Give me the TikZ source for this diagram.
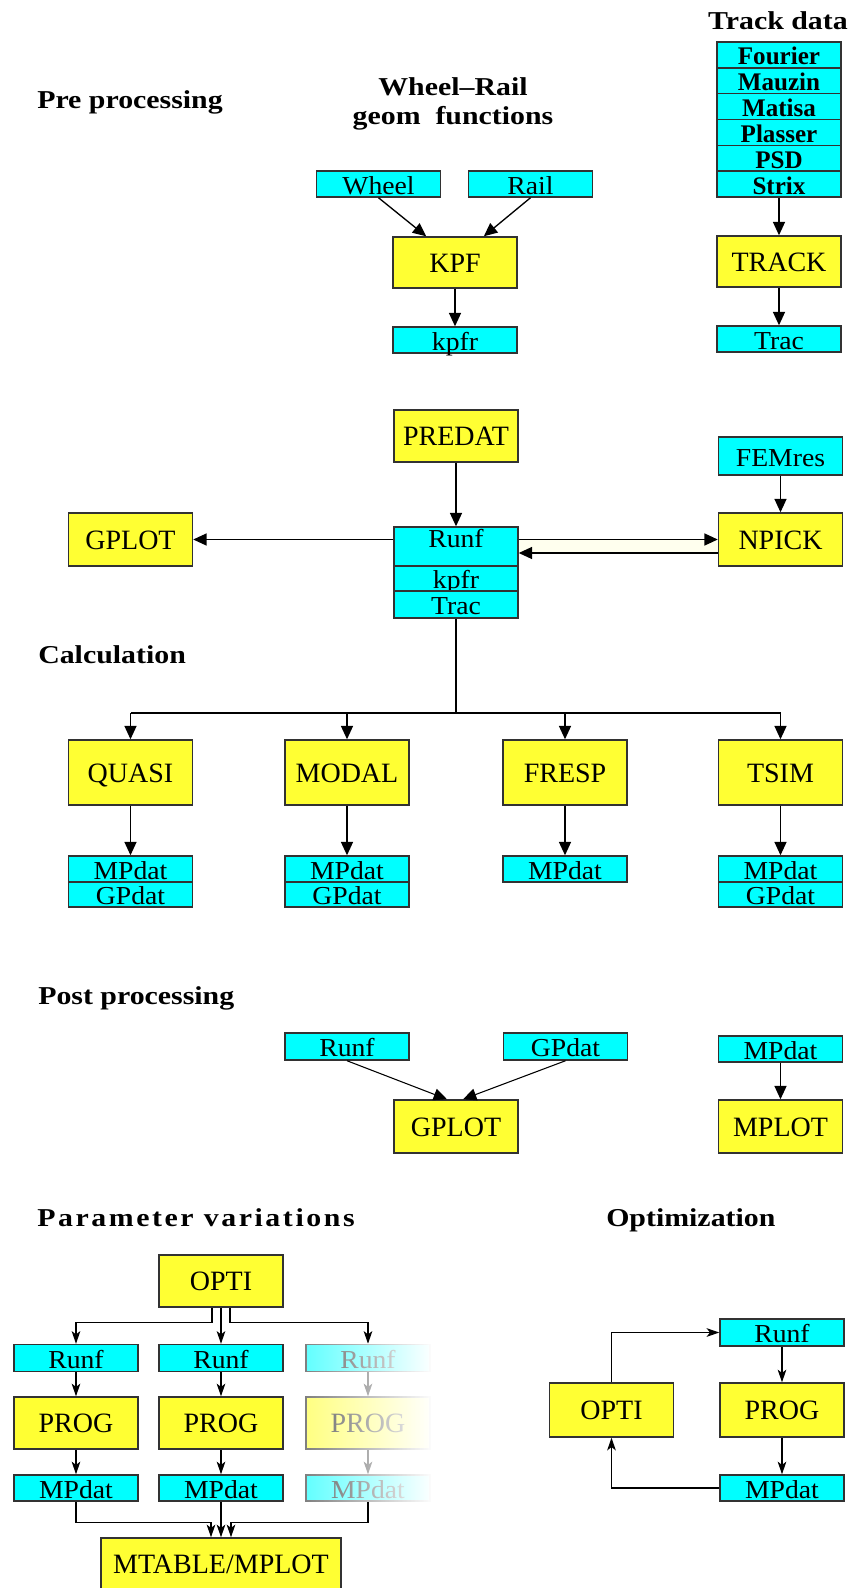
\documentclass[tikz,border=0pt]{standalone}
\usepackage{fontspec}
\setmainfont{Liberation Serif}
\newfontfamily\smallfam[FakeStretch=1.07]{Liberation Serif}
\newfontfamily\stackfam[FakeStretch=0.99]{Liberation Serif}
\newfontfamily\headfam[FakeStretch=1.16]{Liberation Serif}
\usetikzlibrary{arrows.meta,calc,fadings}
\definecolor{cyanc}{RGB}{0,255,255}
\definecolor{yellowc}{RGB}{255,255,51}
\definecolor{bordc}{RGB}{50,50,50}
\definecolor{creamc}{RGB}{255,255,238}
\tikzfading[name=fadeR, left color=transparent!63, right color=transparent!0]
\newcommand\lblfont{\fontsize{21}{25}\selectfont}
\newcommand\sfnt{\smallfam\fontsize{19.4}{22}\selectfont}
\newcommand\stfnt{\stackfam\fontsize{19}{22}\selectfont\bfseries}
\newcommand\headfont{\headfam\fontsize{19.3}{22}\selectfont\bfseries}
\begin{document}
\begin{tikzpicture}[x=0.75pt,y=-0.75pt,
  boxbase/.style={draw=bordc, line width=1.1pt, inner sep=0pt, minimum width=93pt},
  cbox/.style={boxbase, fill=cyanc, minimum height=19.5pt, font=\sfnt,
    text height=16.2pt, text depth=1.2pt},
  stbox/.style={cbox, font=\stfnt, minimum height=19.375pt},
  ybox/.style={boxbase, fill=yellowc, minimum height=39pt, font=\lblfont,
    text height=16.5pt, text depth=2pt},
  head/.style={font=\headfont, inner sep=0pt},
  conn/.style={line width=1pt, draw=black},
  arr/.style={conn, -{Triangle[length=10pt,width=9pt]}},
  sarr/.style={conn, -{Stealth[length=9.5pt,width=6.5pt,inset=2.5pt]}},
]
\useasboundingbox (0,0) rectangle (848,1588);
\clip (0,0) rectangle (848,1588);
\fill[white] (0,0) rectangle (848,1588);

% ---------- headings ----------
\node[head, anchor=base west] (hpre) at (37,108) {Pre processing};
\node[head, anchor=base] (hwr) at (453,95) {Wheel–Rail};
\node[head, anchor=base] (hgeom) at (453,124) {geom\ \ functions};
\node[head, anchor=base] (htrack) at (778,29) {Track data};
\node[head, anchor=base west] (hcalc) at (38,663) {Calculation};
\node[head, anchor=base west] (hpost) at (38,1004) {Post processing};
\node[head, anchor=base west] (hparam) at (37,1226) {\addfontfeature{LetterSpace=10}Parameter variations};
\node[head, anchor=base west] (hopt) at (606,1226) {Optimization};

% ---------- pre processing ----------
\node[cbox] (wheel) at (378.5,184) {Wheel};
\node[cbox] (rail) at (530.5,184) {Rail};
\node[ybox, minimum height=38.25pt] (kpf) at (455,262.5) {KPF};
\node[cbox] (kpfr) at (455,340) {kpfr};
\draw[arr] (wheel.south) -- ($(kpf.north west)!0.27!(kpf.north east)$);
\draw[arr] (rail.south) -- ($(kpf.north west)!0.73!(kpf.north east)$);
\draw[arr] (kpf.south) -- (kpfr.north);

\node[stbox] (fourier) at (779,54.9) {Fourier};
\node[stbox] (mauzin) at (779,80.8) {Mauzin};
\node[stbox] (matisa) at (779,106.6) {Matisa};
\node[stbox] (plasser) at (779,132.4) {Plasser};
\node[stbox] (psd) at (779,158.3) {PSD};
\node[stbox] (strix) at (779,184.1) {Strix};
\node[ybox, minimum height=38.25pt] (track) at (779,261.5) {TRACK};
\node[cbox] (trac) at (779,339) {Trac};
\draw[arr] (strix.south) -- (track.north);
\draw[arr] (track.south) -- (trac.north);

% ---------- calculation ----------
\node[ybox] (predat) at (456,436) {PREDAT};
\node[cbox, minimum height=28.5pt] (femres) at (780.5,456) {FEMres};
\node[ybox, minimum height=39.75pt] (npick) at (780.5,539.5) {NPICK};
\node[ybox, minimum height=39.75pt] (gplot) at (130.5,539.5) {GPLOT};
\node[cbox, minimum height=29.25pt, text height=15.6pt, text depth=13.4pt] (runf) at (456,546.5) {Runf};
\node[cbox, minimum height=18.75pt] (kpfr2) at (456,578.5) {kpfr};
\node[cbox, minimum height=20.25pt] (trac2) at (456,604.5) {Trac};

\coordinate (nb) at ($(npick.west)+(0,13.5)$);
\fill[creamc] (runf.east |- npick.west) rectangle (nb);
\draw[arr] (runf.east |- npick.west) -- (npick.west);
\draw[arr] (nb) -- (runf.east |- nb);
\draw[arr] (runf.west |- gplot.east) -- (gplot.east);
\draw[arr] (predat.south) -- (runf.north);
\draw[arr] (femres.south) -- (npick.north);

\node[ybox, minimum height=48.75pt] (quasi) at (130.5,772.5) {QUASI};
\node[ybox, minimum height=48.75pt] (modal) at (347,772.5) {MODAL};
\node[ybox, minimum height=48.75pt] (fresp) at (565,772.5) {FRESP};
\node[ybox, minimum height=48.75pt] (tsim) at (780.5,772.5) {TSIM};
\coordinate (bus) at (456,713);
\draw[conn] (trac2.south) -- (bus);
\draw[conn] (quasi.north |- bus) -- (tsim.north |- bus);
\foreach \n in {quasi,modal,fresp,tsim} \draw[arr] (\n.north |- bus) -- (\n.north);

\node[cbox] (mpq) at (130.5,869) {MPdat};
\node[cbox, minimum height=18.75pt] (gpq) at (130.5,894.5) {GPdat};
\node[cbox] (mpm) at (347,869) {MPdat};
\node[cbox, minimum height=18.75pt] (gpm) at (347,894.5) {GPdat};
\node[cbox] (mpf) at (565,869) {MPdat};
\node[cbox] (mpt) at (780.5,869) {MPdat};
\node[cbox, minimum height=18.75pt] (gpt) at (780.5,894.5) {GPdat};
\draw[arr] (quasi.south) -- (mpq.north);
\draw[arr] (modal.south) -- (mpm.north);
\draw[arr] (fresp.south) -- (mpf.north);
\draw[arr] (tsim.south) -- (mpt.north);

% ---------- post processing ----------
\node[cbox, minimum height=20.25pt] (runfp) at (347,1046.5) {Runf};
\node[cbox, minimum height=20.25pt] (gpdatp) at (565.5,1046.5) {GPdat};
\node[cbox] (mpdatp) at (780.5,1049) {MPdat};
\node[ybox, minimum height=39.75pt] (gplotp) at (456,1126.5) {GPLOT};
\node[ybox, minimum height=39.75pt] (mplot) at (780.5,1126.5) {MPLOT};
\draw[arr, line width=0.8pt] (runfp.south) -- ($(gplotp.north)+(-9,0)$);
\draw[arr, line width=0.8pt] (gpdatp.south) -- ($(gplotp.north)+(7,0)$);
\draw[arr] (mpdatp.south) -- (mplot.north);

% ---------- parameter variations ----------
\node[ybox] (opti1) at (221,1281) {OPTI};
\node[cbox, minimum height=20.25pt] (pr1) at (76,1358) {Runf};
\node[cbox, minimum height=20.25pt] (pr2) at (221,1358) {Runf};
\node[cbox, minimum height=20.25pt] (pr3) at (368,1358) {Runf};
\node[ybox] (pp1) at (76,1423) {PROG};
\node[ybox] (pp2) at (221,1423) {PROG};
\node[ybox] (pp3) at (368,1423) {PROG};
\node[cbox] (pm1) at (76,1488) {MPdat};
\node[cbox] (pm2) at (221,1488) {MPdat};
\node[cbox] (pm3) at (368,1488) {MPdat};
\node[ybox, minimum width=180pt] (mtab) at (221,1564) {MTABLE/MPLOT};

\draw[sarr] ($(opti1.south)+(-9,0)$) -- ++(0,15) -| (pr1.north);
\draw[sarr] (opti1.south) -- (pr2.north);
\draw[sarr] ($(opti1.south)+(9,0)$) -- ++(0,15) -| (pr3.north);
\foreach \c in {1,2,3} {
  \draw[sarr] (pr\c.south) -- (pp\c.north);
  \draw[sarr] (pp\c.south) -- (pm\c.north);
}
\fill[white, path fading=fadeR] (303,1342.5) rectangle (433,1502.5);
\draw[sarr] (pm1.south) -- ++(0,21) -| ($(mtab.north)+(-10,0)$);
\draw[sarr] (pm2.south) -- (mtab.north);
\draw[sarr] (pm3.south) -- ++(0,21) -| ($(mtab.north)+(10,0)$);

% ---------- optimization ----------
\node[cbox, minimum height=20.25pt] (or) at (782,1332.5) {Runf};
\node[ybox, minimum height=40.5pt] (op) at (782,1410) {PROG};
\node[cbox] (om) at (782,1488) {MPdat};
\node[ybox, minimum height=40.5pt] (oo) at (611.5,1410) {OPTI};
\draw[sarr] (oo.north) |- (or.west);
\draw[sarr] (or.south) -- (op.north);
\draw[sarr] (op.south) -- (om.north);
\draw[sarr] (om.west) -| (oo.south);
\end{tikzpicture}
\end{document}
